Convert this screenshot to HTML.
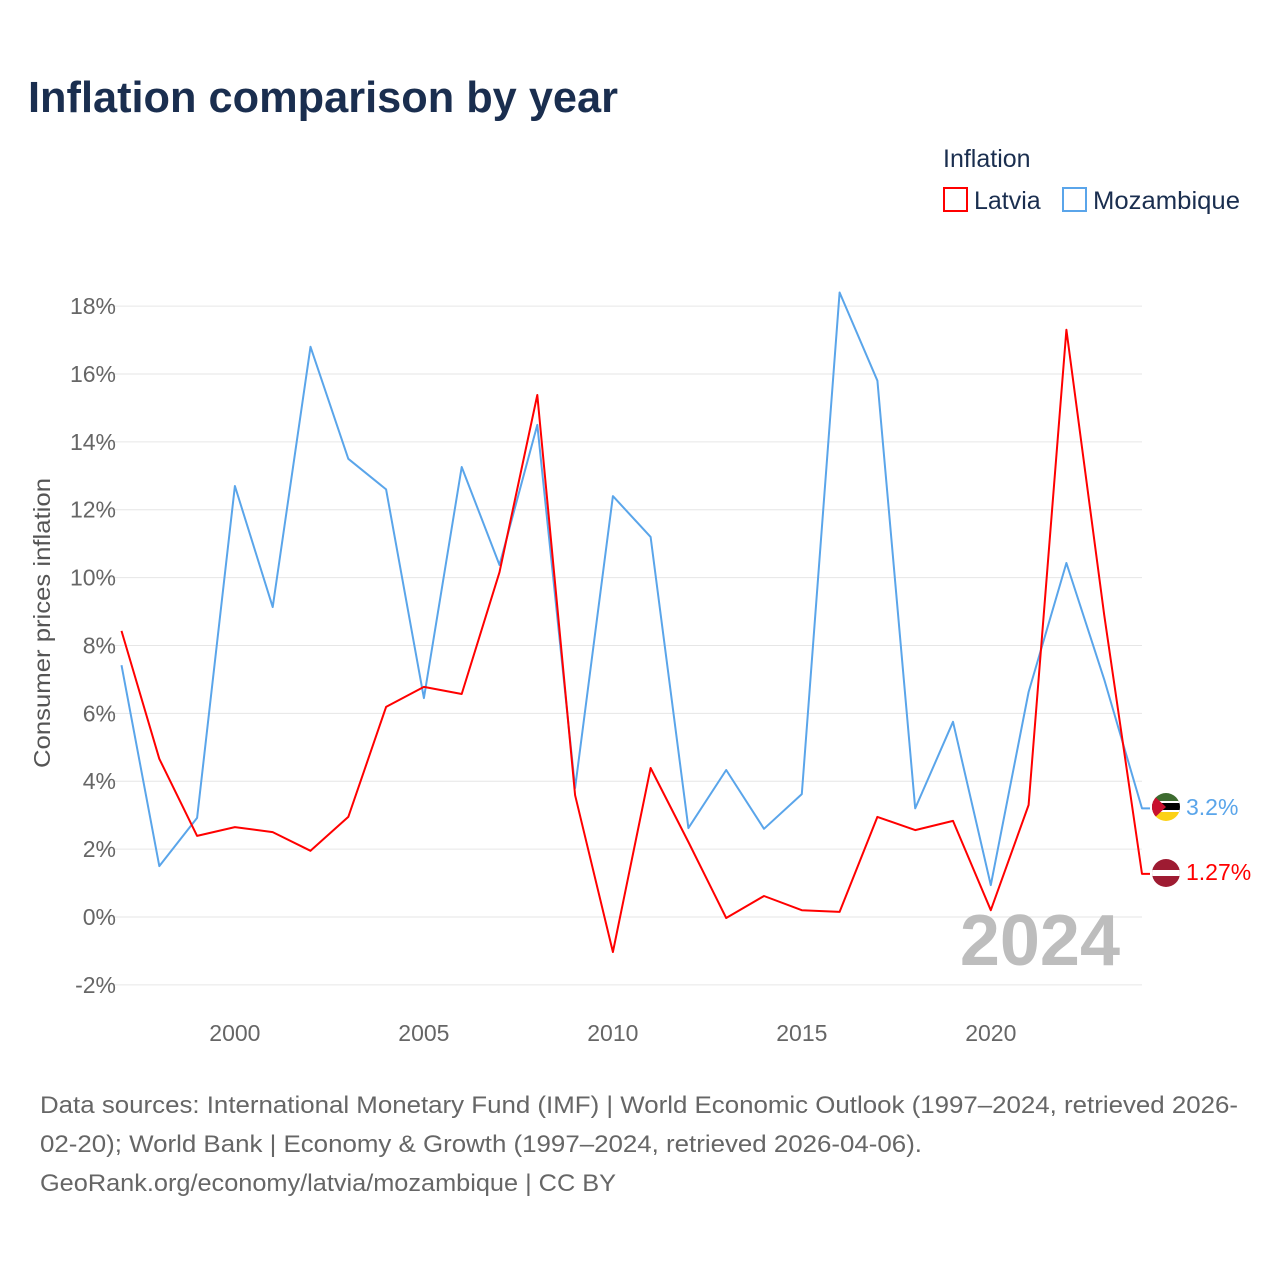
<!DOCTYPE html>
<html><head><meta charset="utf-8"><style>
body{margin:0;background:#fff;font-family:"Liberation Sans",sans-serif}
</style></head><body>
<svg id="chart" width="1280" height="1280" xmlns="http://www.w3.org/2000/svg">
<text x="28" y="112" font-size="44" font-weight="bold" fill="#1a2e4f" textLength="590" lengthAdjust="spacingAndGlyphs">Inflation comparison by year</text>
<g>
<text x="943" y="167" font-size="25" fill="#1a2e4f">Inflation</text>
<g><rect x="944" y="188" width="23" height="23" fill="none" stroke="#ff0000" stroke-width="2"/><text x="974" y="209" font-size="25" fill="#1a2e4f">Latvia</text></g>
<g><rect x="1063" y="188" width="23" height="23" fill="none" stroke="#5aa5ea" stroke-width="2"/><text x="1093" y="209" font-size="25" fill="#1a2e4f" textLength="147" lengthAdjust="spacingAndGlyphs">Mozambique</text></g>
</g>
<g id="grid"></g><g id="yt"></g><g id="xt"></g>
<text transform="translate(50,623) rotate(-90)" text-anchor="middle" font-size="23" fill="#555" textLength="290" lengthAdjust="spacingAndGlyphs">Consumer prices inflation</text>
<text x="1120" y="965" text-anchor="end" font-size="72" font-weight="bold" fill="#bdbdbd">2024</text>
<g id="series"></g>
<g>
<clipPath id="cm"><circle cx="1166" cy="807" r="14"/></clipPath>
<g clip-path="url(#cm)"><rect x="1150" y="792" width="32" height="10" fill="#3d6b2f"/><rect x="1150" y="801" width="32" height="11" fill="#000"/><rect x="1150" y="801" width="32" height="2" fill="#fff"/><rect x="1150" y="810" width="32" height="2" fill="#fff"/><rect x="1150" y="812" width="32" height="10" fill="#fcd116"/><polygon points="1150,792 1166,807 1150,822" fill="#c8102e"/></g></g>
<g>
<clipPath id="cl"><circle cx="1166" cy="873" r="14"/></clipPath>
<g clip-path="url(#cl)"><rect x="1150" y="858" width="32" height="30" fill="#9e1b32"/><rect x="1150" y="870" width="32" height="6" fill="#fff"/></g></g>
<text x="1186" y="815" font-size="23" fill="#5aa5ea">3.2%</text>
<text x="1186" y="880" font-size="23" fill="#ff0000">1.27%</text>
<g font-size="24" fill="#666">
<text x="40" y="1113" textLength="1198" lengthAdjust="spacingAndGlyphs">Data sources: International Monetary Fund (IMF) | World Economic Outlook (1997–2024, retrieved 2026-</text>
<text x="40" y="1152" textLength="882" lengthAdjust="spacingAndGlyphs">02-20); World Bank | Economy &amp; Growth (1997–2024, retrieved 2026-04-06).</text>
<text x="40" y="1191" textLength="576" lengthAdjust="spacingAndGlyphs">GeoRank.org/economy/latvia/mozambique | CC BY</text>
</g>
</svg>
<script>
const years=[1997,1998,1999,2000,2001,2002,2003,2004,2005,2006,2007,2008,2009,2010,2011,2012,2013,2014,2015,2016,2017,2018,2019,2020,2021,2022,2023,2024];
const latvia=[8.43,4.66,2.39,2.65,2.5,1.95,2.95,6.19,6.78,6.57,10.16,15.38,3.59,-1.03,4.39,2.21,-0.03,0.62,0.2,0.15,2.95,2.56,2.83,0.2,3.3,17.3,8.9,1.27];
const mozambique=[7.42,1.5,2.92,12.7,9.13,16.8,13.5,12.6,6.45,13.26,10.37,14.5,3.8,12.4,11.2,2.62,4.33,2.6,3.62,18.4,15.8,3.2,5.75,0.94,6.63,10.43,7.0,3.2];
const yTicks=[-2,0,2,4,6,8,10,12,14,16,18];
const xTicks=[2000,2005,2010,2015,2020];
const NS="http://www.w3.org/2000/svg";
const X=v=>121.5+(v-1997)*(1142-121.5)/27;
const Y=v=>917-v*33.94;
function mk(t,a,p){const e=document.createElementNS(NS,t);for(const k in a)e.setAttribute(k,a[k]);p.appendChild(e);return e;}
const g=document.getElementById('grid'),yt=document.getElementById('yt'),xt=document.getElementById('xt'),s=document.getElementById('series');
yTicks.forEach(v=>{
const l=mk('line',{x1:100,x2:1142,y1:Y(v),y2:Y(v),stroke:'#e6e6e6','stroke-width':1},g);


const t=mk('text',{x:116,y:Y(v)+8,'text-anchor':'end','font-size':23,fill:'#666'},yt);
t.textContent=v+'%';


});
xTicks.forEach(v=>{
const t=mk('text',{x:X(v),y:1041,'text-anchor':'middle','font-size':23,fill:'#666'},xt);
t.textContent=v;


});
function line(vals,col,name){
let d=vals.map((v,i)=>(i?'L':'M')+X(years[i]).toFixed(1)+','+Y(v).toFixed(1)).join(' ');
d+=' L1150,'+Y(vals[vals.length-1]).toFixed(1);
const p=mk('path',{d:d,fill:'none',stroke:col,'stroke-width':2,'stroke-linejoin':'round'},s);


}
line(mozambique,'#5aa5ea','line-mozambique');
line(latvia,'#ff0000','line-latvia');
</script>
</body></html>
